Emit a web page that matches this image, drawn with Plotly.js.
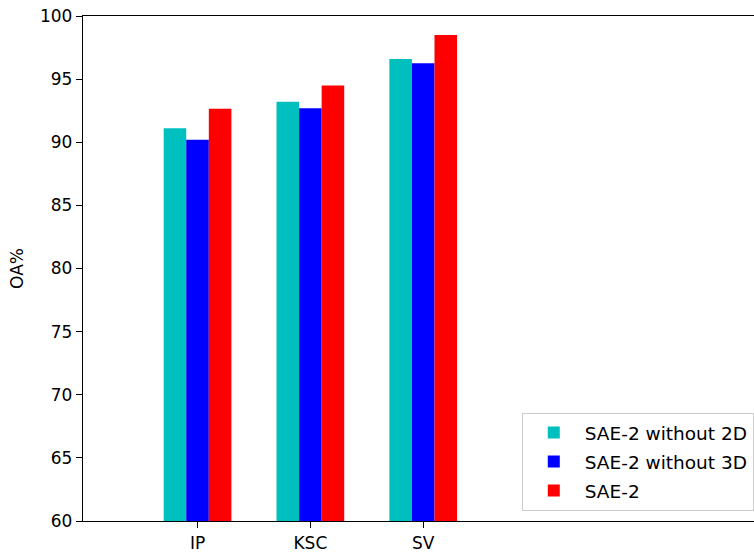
<!DOCTYPE html>
<html>
<head>
<meta charset="utf-8">
<script src="https://cdn.plot.ly/plotly-3.0.1.min.js"></script>
<style>
html, body { margin: 0; padding: 0; overflow: hidden; background: #fff; }
#chart { width: 766px; height: 552px; }
</style>
</head>
<body>
<div id="chart"></div>
<script>
// Data
const categories = ["IP", "KSC", "SV"];
const seriesNames = ["SAE-2 without 2D", "SAE-2 without 3D", "SAE-2"];
const without2D = [91.1, 93.2, 96.6];
const without3D = [90.2, 92.7, 96.25];
const sae2 = [92.65, 94.5, 98.5];
const yTicks = [60, 65, 70, 75, 80, 85, 90, 95, 100];

const colors = ["#00BFBF", "#0000FF", "#FF0000"];
const values = [without2D, without3D, sae2];

const traces = values.map((v, i) => ({
  type: "bar",
  name: seriesNames[i],
  legendgroup: "g" + i,
  x: categories,
  y: v,
  marker: { color: colors[i], line: { width: 0 } },
  hoverinfo: "x+y+name"
}));

const font = { family: "DejaVu Sans, sans-serif", size: 17, color: "#000" };

const layout = {
  width: 766,
  height: 552,
  margin: { l: 83, r: 2, t: 16, b: 31, pad: 0 },
  paper_bgcolor: "#fff",
  plot_bgcolor: "#fff",
  font: font,
  barmode: "group",
  bargap: 0.4,
  bargroupgap: 0,
  showlegend: true,
  legend: {
    x: 0.985, y: 0.02, xanchor: "right", yanchor: "bottom",
    bgcolor: "rgba(255,255,255,0.85)",
    bordercolor: "#cccccc", borderwidth: 1,
    font: { family: "DejaVu Sans, sans-serif", size: 18.5, color: "#000" },
    itemwidth: 52,
    tracegroupgap: 2
  },
  xaxis: {
    type: "category",
    range: [-1.015, 5.02],
    showline: true, linecolor: "#000", linewidth: 1.2,
    mirror: true,
    ticks: "outside", ticklen: 6, tickcolor: "#000",
    showgrid: false, zeroline: false,
    tickfont: font
  },
  yaxis: {
    range: [60, 100],
    tickvals: yTicks,
    ticktext: yTicks.map(String),
    showline: true, linecolor: "#000", linewidth: 1.2,
    mirror: true,
    ticks: "outside", ticklen: 6, tickcolor: "#000",
    showgrid: false, zeroline: false,
    tickfont: font,
    title: { text: "OA%", font: { family: "DejaVu Sans, sans-serif", size: 17, color: "#000" }, standoff: 12 }
  }
};

Plotly.newPlot("chart", traces, layout, { displayModeBar: false, staticPlot: true });
</script>
</body>
</html>
